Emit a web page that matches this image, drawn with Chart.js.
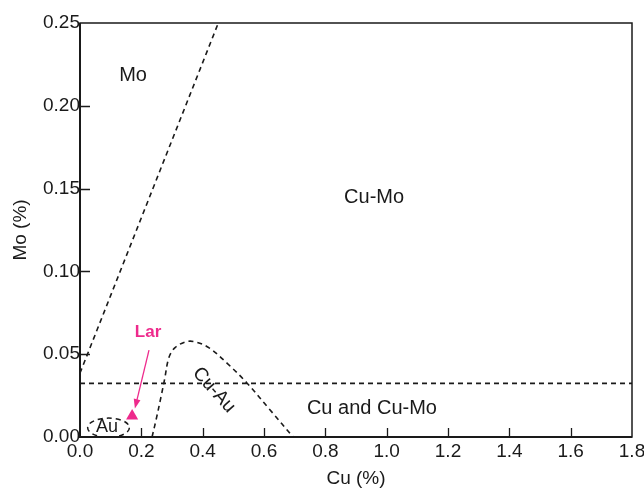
<!DOCTYPE html>
<html>
<head>
<meta charset="utf-8">
<script src="https://cdn.jsdelivr.net/npm/chart.js@4/dist/chart.umd.min.js"></script>
<style>
  html, body { margin: 0; padding: 0; background: #fff; }
  #wrap { width: 644px; height: 492px; }
</style>
</head>
<body>
<div id="wrap"><canvas id="chart" width="644" height="492"></canvas></div>
<script>
// axis ticks
const cuTicks = [0, 0.2, 0.4, 0.6, 0.8, 1.0, 1.2, 1.4, 1.6, 1.8];
const cuTickLabels = ['0.0', '0.2', '0.4', '0.6', '0.8', '1.0', '1.2', '1.4', '1.6', '1.8'];
const moTicks = [0, 0.05, 0.10, 0.15, 0.20, 0.25];
const moTickLabels = ['0.00', '0.05', '0.10', '0.15', '0.20', '0.25'];

// field boundaries
const moLineCu = [0, 0.451];
const moLineMo = [0.0386, 0.25];
const splitCu = [0, 1.8];
const splitMo = [0.0324, 0.0324];
const cuAuCu = [0.235, 0.25, 0.265, 0.276, 0.29, 0.31, 0.345, 0.375, 0.42, 0.48, 0.545, 0.62, 0.695];
const cuAuMo = [0, 0.012, 0.025, 0.035, 0.048, 0.054, 0.0575, 0.0575, 0.054, 0.0445, 0.0325, 0.0163, 0];

// Au field ellipse: centre and half-axes
const auCentre = [0.093, 0.0056];
const auHalf = [0.068, 0.0058];

// Lar sample and its arrow
const larCu = [0.17];
const larMo = [0.0127];
const arrowCu = [0.225, 0.179];
const arrowMo = [0.0525, 0.0172];

// field names
const fieldNames = ['Mo', 'Cu-Mo', 'Cu and Cu-Mo', 'Cu-Au', 'Au', 'Lar'];
const fieldCu = [0.173, 0.959, 0.952, 0.437, 0.088, 0.222];
const fieldMo = [0.2186, 0.1449, 0.0175, 0.0284, 0.006, 0.0634];
const fieldAngle = [0, 0, 0, 48, 0, 0];

const FONT = '"Liberation Sans", Arial, sans-serif';
const PINK = '#ee2a8c';
const INK = '#1a1a1a';

const pts = (xs, ys) => xs.map((x, i) => ({ x, y: ys[i] }));

const dashed = (data, extra) => Object.assign({
    type: 'line',
    data,
    borderColor: INK,
    borderWidth: 1.6,
    borderDash: [5, 4],
    pointRadius: 0,
    fill: false,
}, extra || {});

const diagramPlugin = {
    id: 'diagram',
    afterDatasetsDraw(chart) {
        const { ctx, chartArea: a, scales: { x, y } } = chart;
        ctx.save();

        // Au ellipse
        ctx.strokeStyle = INK;
        ctx.lineWidth = 1.5;
        ctx.setLineDash([5, 4]);
        ctx.beginPath();
        const cx = x.getPixelForValue(auCentre[0]);
        const cy = y.getPixelForValue(auCentre[1]);
        const rx = x.getPixelForValue(auCentre[0] + auHalf[0]) - cx;
        const ry = cy - y.getPixelForValue(auCentre[1] + auHalf[1]);
        ctx.ellipse(cx, cy, rx, ry, 0, 0, Math.PI * 2);
        ctx.stroke();
        ctx.setLineDash([]);

        // arrow to Lar
        const x1 = x.getPixelForValue(arrowCu[0]), y1 = y.getPixelForValue(arrowMo[0]);
        const x2 = x.getPixelForValue(arrowCu[1]), y2 = y.getPixelForValue(arrowMo[1]);
        const ang = Math.atan2(y2 - y1, x2 - x1);
        ctx.strokeStyle = PINK;
        ctx.fillStyle = PINK;
        ctx.lineWidth = 1.3;
        ctx.beginPath();
        ctx.moveTo(x1, y1);
        ctx.lineTo(x2 - Math.cos(ang) * 6, y2 - Math.sin(ang) * 6);
        ctx.stroke();
        ctx.beginPath();
        ctx.moveTo(x2, y2);
        ctx.lineTo(x2 - Math.cos(ang - 0.35) * 10, y2 - Math.sin(ang - 0.35) * 10);
        ctx.lineTo(x2 - Math.cos(ang + 0.35) * 10, y2 - Math.sin(ang + 0.35) * 10);
        ctx.closePath();
        ctx.fill();

        // field names
        ctx.textAlign = 'center';
        ctx.textBaseline = 'middle';
        fieldNames.forEach((name, i) => {
            const px = x.getPixelForValue(fieldCu[i]);
            const py = y.getPixelForValue(fieldMo[i]);
            ctx.save();
            ctx.translate(px, py);
            ctx.rotate(fieldAngle[i] * Math.PI / 180);
            if (name === 'Lar') {
                ctx.fillStyle = PINK;
                ctx.font = 'bold 17px ' + FONT;
            } else {
                ctx.fillStyle = INK;
                ctx.font = (name === 'Au' ? '18px ' : name === 'Cu-Au' ? '19px ' : '20px ') + FONT;
            }
            ctx.fillText(name, 0, 0);
            ctx.restore();
        });

        // inward tick marks
        ctx.strokeStyle = INK;
        ctx.lineWidth = 1.3;
        ctx.beginPath();
        cuTicks.slice(1, -1).forEach((v) => {
            const px = Math.round(x.getPixelForValue(v)) + 0.5;
            ctx.moveTo(px, a.bottom);
            ctx.lineTo(px, a.bottom - 9);
        });
        moTicks.slice(1, -1).forEach((v) => {
            const py = Math.round(y.getPixelForValue(v)) + 0.5;
            ctx.moveTo(a.left, py);
            ctx.lineTo(a.left + 10, py);
        });
        ctx.stroke();

        // frame
        ctx.lineWidth = 1.5;
        ctx.strokeRect(a.left, a.top, a.right - a.left, a.bottom - a.top);
        ctx.lineWidth = 2;
        ctx.beginPath();
        ctx.moveTo(a.left, a.top);
        ctx.lineTo(a.left, a.bottom);
        ctx.lineTo(a.right, a.bottom);
        ctx.stroke();
        ctx.restore();
    },
};

new Chart(document.getElementById('chart'), {
    type: 'scatter',
    data: {
        datasets: [
            dashed(pts(moLineCu, moLineMo)),
            dashed(pts(splitCu, splitMo)),
            dashed(pts(cuAuCu, cuAuMo), { tension: 0.35 }),
            {
                type: 'scatter',
                data: pts(larCu, larMo),
                pointStyle: 'triangle',
                pointRadius: 7,
                backgroundColor: PINK,
                borderColor: PINK,
                borderWidth: 0,
            },
        ],
    },
    options: {
        responsive: false,
        animation: false,
        layout: { padding: { top: 23, right: 12, left: 0, bottom: 0 } },
        plugins: { legend: { display: false }, tooltip: { enabled: false } },
        scales: {
            x: {
                type: 'linear',
                min: 0,
                max: 1.8,
                afterFit: (s) => { s.height = 55; s.paddingLeft = 0; s.paddingRight = 0; },
                afterBuildTicks: (s) => { s.ticks = cuTicks.map((value) => ({ value })); },
                grid: { display: false, drawTicks: false },
                border: { display: false },
                ticks: {
                    padding: 3,
                    color: INK,
                    font: { family: FONT, size: 19 },
                    maxRotation: 0,
                    callback: (v, i) => cuTickLabels[i],
                },
                title: {
                    display: true,
                    text: 'Cu (%)',
                    color: INK,
                    font: { family: FONT, size: 19 },
                    padding: { top: 0, bottom: 2 },
                },
            },
            y: {
                type: 'linear',
                min: 0,
                max: 0.25,
                afterFit: (s) => { s.width = 80; s.paddingTop = 0; s.paddingBottom = 0; },
                afterBuildTicks: (s) => { s.ticks = moTicks.map((value) => ({ value })); },
                grid: { display: false, drawTicks: false },
                border: { display: false },
                ticks: {
                    padding: 0,
                    color: INK,
                    font: { family: FONT, size: 19 },
                    callback: (v, i) => moTickLabels[i],
                },
                title: {
                    display: true,
                    text: 'Mo (%)',
                    color: INK,
                    font: { family: FONT, size: 19 },
                    padding: { top: 9, bottom: 0 },
                },
            },
        },
    },
    plugins: [diagramPlugin],
});
</script>
</body>
</html>
